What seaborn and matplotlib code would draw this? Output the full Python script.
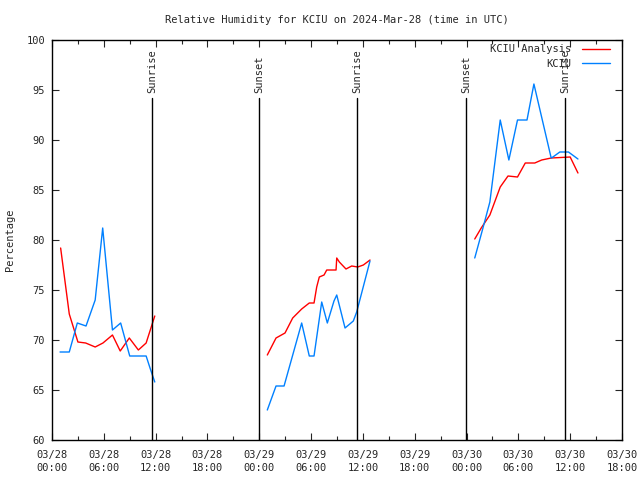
import pandas as pd
import seaborn as sns
import matplotlib.pyplot as plt

# time axis: hours after 2024-03-28 00:00 UTC
anl_hour = [1, 2, 3, 3.9, 5, 5.9, 7, 7.9, 8.95, 10, 10.9, 11.9,
            24.93, 25.94, 26.98, 27.87, 28.91, 29.79, 30.34, 30.65, 30.95, 31.5, 31.81,
            32.89, 32.97, 33.27, 34.04, 34.7, 35.4, 36.05, 36.82,
            48.95, 49.7, 50.7, 51.9, 52.8, 53.9, 54.8, 55.9, 56.7, 57.8, 60.0, 60.9]
anl_rh = [79.2, 72.6, 69.8, 69.7, 69.3, 69.7, 70.5, 68.9, 70.2, 69.0, 69.7, 72.4,
          68.5, 70.2, 70.7, 72.2, 73.1, 73.7, 73.7, 75.3, 76.3, 76.5, 77.0,
          77.0, 78.2, 77.8, 77.1, 77.4, 77.3, 77.5, 78.0,
          80.1, 81.2, 82.5, 85.3, 86.4, 86.3, 87.7, 87.7, 88.0, 88.2, 88.3, 86.7]

obs_hour = [0.93, 2.0, 2.93, 3.94, 5.0, 5.87, 7.0, 7.95, 9.0, 10.9, 11.35, 11.9,
            24.93, 25.94, 26.87, 28.91, 29.79, 30.34, 31.23, 31.88, 32.65, 32.97,
            33.93, 34.89, 35.28, 36.82,
            48.95, 49.9, 50.7, 51.9, 52.9, 53.9, 55.0, 55.8, 57.8, 58.0, 58.8, 59.8, 60.9]
obs_rh = [68.8, 68.8, 71.7, 71.4, 74.0, 81.2, 71.0, 71.7, 68.4, 68.4, 67.2, 65.8,
          63.0, 65.4, 65.4, 71.7, 68.4, 68.4, 73.8, 71.7, 73.9, 74.5,
          71.2, 71.9, 72.8, 77.9,
          78.2, 81.2, 83.8, 92.0, 88.0, 92.0, 92.0, 95.6, 88.2, 88.3, 88.8, 88.8, 88.1]

sun_hour = [11.6, 23.97, 35.33, 47.94, 59.4]
sun_label = ['Sunrise', 'Sunset', 'Sunrise', 'Sunset', 'Sunrise']

xtick_hour = [0, 6, 12, 18, 24, 30, 36, 42, 48, 54, 60, 66]
xtick_label = ['03/28\n00:00', '03/28\n06:00', '03/28\n12:00', '03/28\n18:00',
               '03/29\n00:00', '03/29\n06:00', '03/29\n12:00', '03/29\n18:00',
               '03/30\n00:00', '03/30\n06:00', '03/30\n12:00', '03/30\n18:00']


def build(hours, values, name):
    d = pd.DataFrame({'hour': hours, 'rh': values})
    d['series'] = name
    # break the line where the data has gaps
    d['seg'] = (d['hour'].diff() > 3).cumsum()
    return d


df = pd.concat([build(anl_hour, anl_rh, 'KCIU Analysis'),
                build(obs_hour, obs_rh, 'KCIU')], ignore_index=True)

sns.set_style('ticks', {'xtick.direction': 'in', 'ytick.direction': 'in'})
plt.rcParams['font.family'] = ['DejaVu Sans Mono']
fs = 7.5

fig = plt.figure(figsize=(6.4, 4.8), dpi=100)
ax = fig.add_axes([0.08125, 0.08333, 0.890625, 0.83333])

sns.lineplot(data=df, x='hour', y='rh', hue='series', units='seg', estimator=None,
             palette={'KCIU Analysis': '#ff0000', 'KCIU': '#0080ff'},
             linewidth=1.0, ax=ax, legend=True)

for h, lab in zip(sun_hour, sun_label):
    ax.plot([h, h], [60, 94.2], color='black', linewidth=1.0)
    ax.text(h, 94.7, lab, rotation=90, ha='center', va='bottom', fontsize=fs)

ax.set_xlim(0, 66)
ax.set_ylim(60, 100)
ax.set_xticks(xtick_hour)
ax.set_xticklabels(xtick_label, fontsize=fs, linespacing=1.35)
ax.set_xticks(range(3, 66, 6), minor=True)
ax.set_yticks(range(60, 101, 5))
ax.tick_params(axis='y', labelsize=fs, pad=5)
ax.tick_params(axis='x', pad=7)
ax.tick_params(which='both', direction='in', top=True, right=True, width=0.8)
ax.tick_params(which='major', length=5)
ax.tick_params(which='minor', length=3)
for s in ax.spines.values():
    s.set_linewidth(1.0)
    s.set_color('black')

ax.set_xlabel('')
ax.set_ylabel('Percentage', fontsize=fs, labelpad=8)
ax.set_title('Relative Humidity for KCIU on 2024-Mar-28 (time in UTC)', fontsize=fs, pad=12)

handles, labels = ax.get_legend_handles_labels()
ax.legend(handles, labels, loc='upper right', bbox_to_anchor=(0.99, 1.005),
          frameon=False, markerfirst=False, fontsize=fs, handlelength=2.7,
          handletextpad=1.0, labelspacing=0.45, borderaxespad=0.2)

fig.savefig('out.png', dpi=100)
